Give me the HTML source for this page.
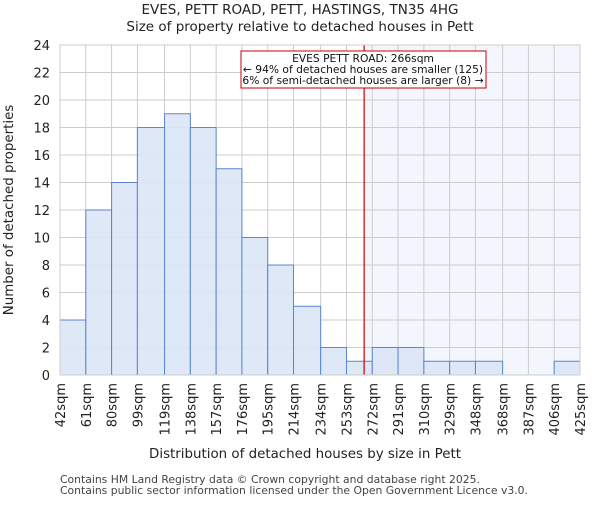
<!DOCTYPE html>
<html><head><meta charset="utf-8"><style>
body{margin:0;background:#fff;font-family:"Liberation Sans","DejaVu Sans",sans-serif}
svg text{font-family:"DejaVu Sans","Liberation Sans",sans-serif}
</style></head><body>
<svg id="c" width="600" height="500" xmlns="http://www.w3.org/2000/svg">
<text x="300" y="14" text-anchor="middle" font-size="13.5" fill="#222">EVES, PETT ROAD, PETT, HASTINGS, TN35 4HG</text>
<text x="300" y="31" text-anchor="middle" font-size="13.5" fill="#222">Size of property relative to detached houses in Pett</text>
<g id="plot"></g>
<text x="305" y="458" text-anchor="middle" font-size="13.4" fill="#222">Distribution of detached houses by size in Pett</text>
<text transform="translate(13,210) rotate(-90)" text-anchor="middle" font-size="13.4" fill="#222">Number of detached properties</text>
<text x="60" y="483" font-size="10.8" fill="#444">Contains HM Land Registry data © Crown copyright and database right 2025.</text>
<text x="60" y="494" font-size="10.8" fill="#444">Contains public sector information licensed under the Open Government Licence v3.0.</text>
</svg>
<script>
const binEdges=[42,61,80,99,119,138,157,176,195,214,234,253,272,291,310,329,348,368,387,406,425];
const counts=[4,12,14,18,19,18,15,10,8,5,2,1,2,2,1,1,1,0,0,1];
const yTicks=[0,2,4,6,8,10,12,14,16,18,20,22,24];
const propertySize=266;
const L=60,R=580,T=45,B=375;
const xMin=42,xMax=425,yMax=24;
const x=v=>L+(v-xMin)/(xMax-xMin)*(R-L);
const y=v=>B-v/yMax*(B-T);
const ns="http://www.w3.org/2000/svg";
const g=document.getElementById('plot');
function mk(t,a){const e=document.createElementNS(ns,t);for(const k in a)e.setAttribute(k,a[k]);g.appendChild(e);return e;}
let sh=mk('rect',{x:x(propertySize),y:T,width:R-x(propertySize),height:B-T,fill:'#f3f6fd'});


yTicks.forEach(t=>{let l=mk('line',{x1:L,x2:R,y1:y(t),y2:y(t),stroke:'#ccc','stroke-width':1});


let tx=mk('text',{x:L-10,y:y(t)+5,'text-anchor':'end','font-size':13,fill:'#222'});tx.textContent=t;

});
binEdges.forEach(e=>{let l=mk('line',{x1:x(e),x2:x(e),y1:T,y2:B,stroke:'#ccc','stroke-width':1});


let tx=mk('text',{transform:`translate(${x(e)+5},${B+8}) rotate(-90)`,'text-anchor':'end','font-size':13,fill:'#222'});tx.textContent=e+'sqm';

});
counts.forEach((c,i)=>{if(c<=0)return;let r=mk('rect',{x:x(binEdges[i]),y:y(c),width:x(binEdges[i+1])-x(binEdges[i]),height:B-y(c),fill:'#dce6f5',stroke:'#5a87cf','stroke-width':1,'fill-opacity':0.9});

});
let rl=mk('line',{x1:x(propertySize),x2:x(propertySize),y1:T,y2:B,stroke:'#cc0000','stroke-width':1.2});


let bx=mk('rect',{x:241,y:51,width:245,height:37,fill:'#fff',stroke:'#cc0000','stroke-width':1});


['EVES PETT ROAD: 266sqm','← 94% of detached houses are smaller (125)','6% of semi-detached houses are larger (8) →'].forEach((s,i)=>{
let t=mk('text',{x:363,y:62+i*11,'text-anchor':'middle','font-size':10.7,fill:'#111'});t.textContent=s;

});
let ax=mk('rect',{x:L,y:T,width:R-L,height:B-T,fill:'none',stroke:'#ccc','stroke-width':1});


</script>
</body></html>
